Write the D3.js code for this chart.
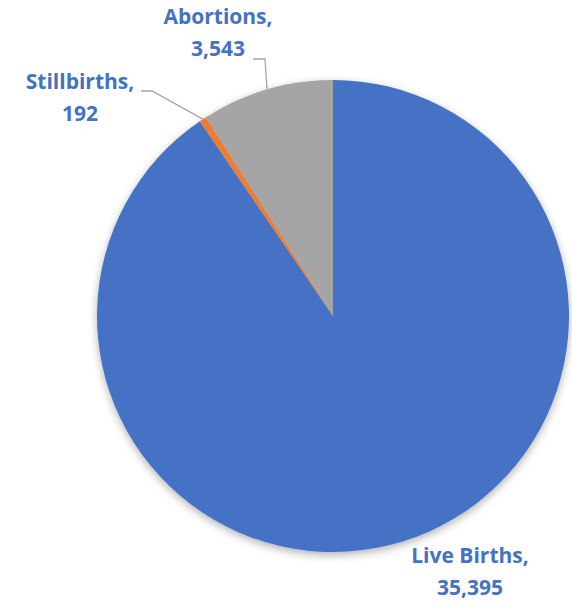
<!DOCTYPE html>
<html>
<head>
<meta charset="utf-8">
<script src="https://cdn.jsdelivr.net/npm/d3@7"></script>
<style>
  body { margin: 0; background: #fff; }
  svg { display: block; }
</style>
</head>
<body>
<svg id="chart" width="572" height="605"></svg>
<script>
// --- Data ---
const categories = ["Live Births", "Stillbirths", "Abortions"];
const values = [35395, 192, 3543];
const colors = ["#4472C4", "#ED7D31", "#A5A5A5"];

const FONT = "'Open Sans', 'Liberation Sans', sans-serif";
const LABEL_COLOR = "#4472C4";

const W = 572, H = 605;
const cx = 333, cy = 316, R = 236;

const svg = d3.select("#chart");
const defs = svg.append("defs");

// soft shadow under the pie
const f = defs.append("filter").attr("id", "shadow")
  .attr("x", "-10%").attr("y", "-10%").attr("width", "120%").attr("height", "125%");
f.append("feDropShadow").attr("dx", 0).attr("dy", 3).attr("stdDeviation", 4)
  .attr("flood-color", "#000").attr("flood-opacity", 0.3);

const data = categories.map((c, i) => ({ name: c, value: values[i], color: colors[i] }));

const pie = d3.pie().value(d => d.value).sort(null);
const arcs = pie(data);
const arc = d3.arc().innerRadius(0).outerRadius(R);

const g = svg.append("g").attr("transform", `translate(${cx},${cy})`);

g.append("g").attr("filter", "url(#shadow)")
  .selectAll("path").data(arcs).join("path")
  .attr("d", arc)
  .attr("fill", d => d.data.color);

// --- Labels (positions as placed in the original) ---
const fmt = d3.format(",");
const labelPos = {
  "Live Births": { x: 470, y: 563 },
  "Stillbirths": { x: 80, y: 89 },
  "Abortions": { x: 218, y: 24 }
};

const labels = svg.append("g").attr("class", "labels");
arcs.forEach(a => {
  const p = labelPos[a.data.name];
  const t = labels.append("text")
    .attr("x", p.x).attr("y", p.y)
    .attr("text-anchor", "middle")
    .attr("font-family", FONT)
    .attr("font-weight", "bold")
    .attr("font-size", 21)
    .attr("fill", LABEL_COLOR);
  t.append("tspan").attr("x", p.x).text(a.data.name + ",");
  t.append("tspan").attr("x", p.x).attr("dy", 32).text(fmt(a.data.value));
});

// --- Leader lines ---
function edgePoint(a) {
  const ang = (a.startAngle + a.endAngle) / 2;
  return [cx + R * Math.sin(ang), cy - R * Math.cos(ang)];
}
const leaders = svg.append("g").attr("fill", "none").attr("stroke", "#A5A5A5").attr("stroke-width", 1.3);
const still = arcs[1];
// Abortions: short horizontal then down to pie edge
const pa = [267, cy - Math.sqrt(R * R - (267 - cx) * (267 - cx))];
leaders.append("polyline").attr("points", [[253, 59], [265, 59], pa].map(p => p.join(",")).join(" "));
const ps = edgePoint(still);
leaders.append("polyline").attr("points", [[141, 91], [152, 91], ps].map(p => p.join(",")).join(" "));
</script>
</body>
</html>
